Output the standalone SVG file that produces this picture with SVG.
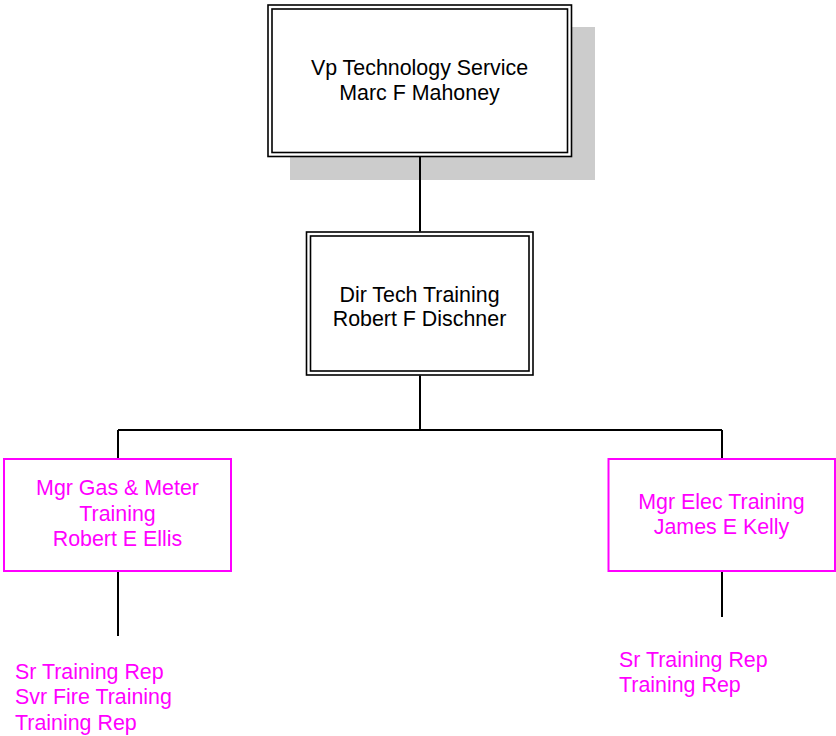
<svg xmlns="http://www.w3.org/2000/svg" width="836" height="736" viewBox="0 0 836 736">
<style>
text{font-family:"Liberation Sans",Arial,sans-serif;font-size:21.4px;}
.blk{fill:#000;text-anchor:middle;}
.mag{fill:#FF00FF;}
.mid{text-anchor:middle;}
.dbl{fill:#fff;stroke:#000;stroke-width:1.6;}
.dbli{fill:none;stroke:#000;stroke-width:1.6;}
.pbox{fill:#fff;stroke:#FF00FF;stroke-width:2;}
.conn{stroke:#000;stroke-width:2;fill:none;}
</style>
<rect width="836" height="736" fill="#fff"/>
<g id="vp">
<rect x="290" y="27" width="305" height="153" fill="#CCCCCC"/>
<rect class="dbl" x="268" y="5" width="303.5" height="151.5"/>
<rect class="dbli" x="272" y="9" width="295.5" height="143.5"/>
<text class="blk" x="419.5" y="75">Vp Technology Service</text>
<text class="blk" x="419.5" y="100">Marc F Mahoney</text>
</g>
<g id="dir">
<rect class="dbl" x="306.5" y="232" width="226.5" height="143"/>
<rect class="dbli" x="310.5" y="236" width="218.5" height="135"/>
<text class="blk" x="419.5" y="301.5">Dir Tech Training</text>
<text class="blk" x="419.5" y="326">Robert F Dischner</text>
</g>
<g id="gas">
<rect class="pbox" x="4" y="459" width="227" height="112"/>
<text class="mag mid" x="117.5" y="495">Mgr Gas &amp; Meter</text>
<text class="mag mid" x="117.5" y="520.5">Training</text>
<text class="mag mid" x="117.5" y="546">Robert E Ellis</text>
</g>
<g id="elec">
<rect class="pbox" x="608.5" y="459" width="226.5" height="112"/>
<text class="mag mid" x="721.5" y="508.5">Mgr Elec Training</text>
<text class="mag mid" x="721.5" y="533.5">James E Kelly</text>
</g>
<g id="gas-staff">
<text class="mag" x="15" y="678.5">Sr Training Rep</text>
<text class="mag" x="15" y="704">Svr Fire Training</text>
<text class="mag" x="15" y="729.5">Training Rep</text>
</g>
<g id="elec-staff">
<text class="mag" x="619" y="667">Sr Training Rep</text>
<text class="mag" x="619" y="692">Training Rep</text>
</g>
<g id="connectors">
<path class="conn" d="M420 157V231.5M420 375.5V430M118 430H722M118 430V458M722 430V458M118 572V636M722 572V617"/>
</g>
</svg>
